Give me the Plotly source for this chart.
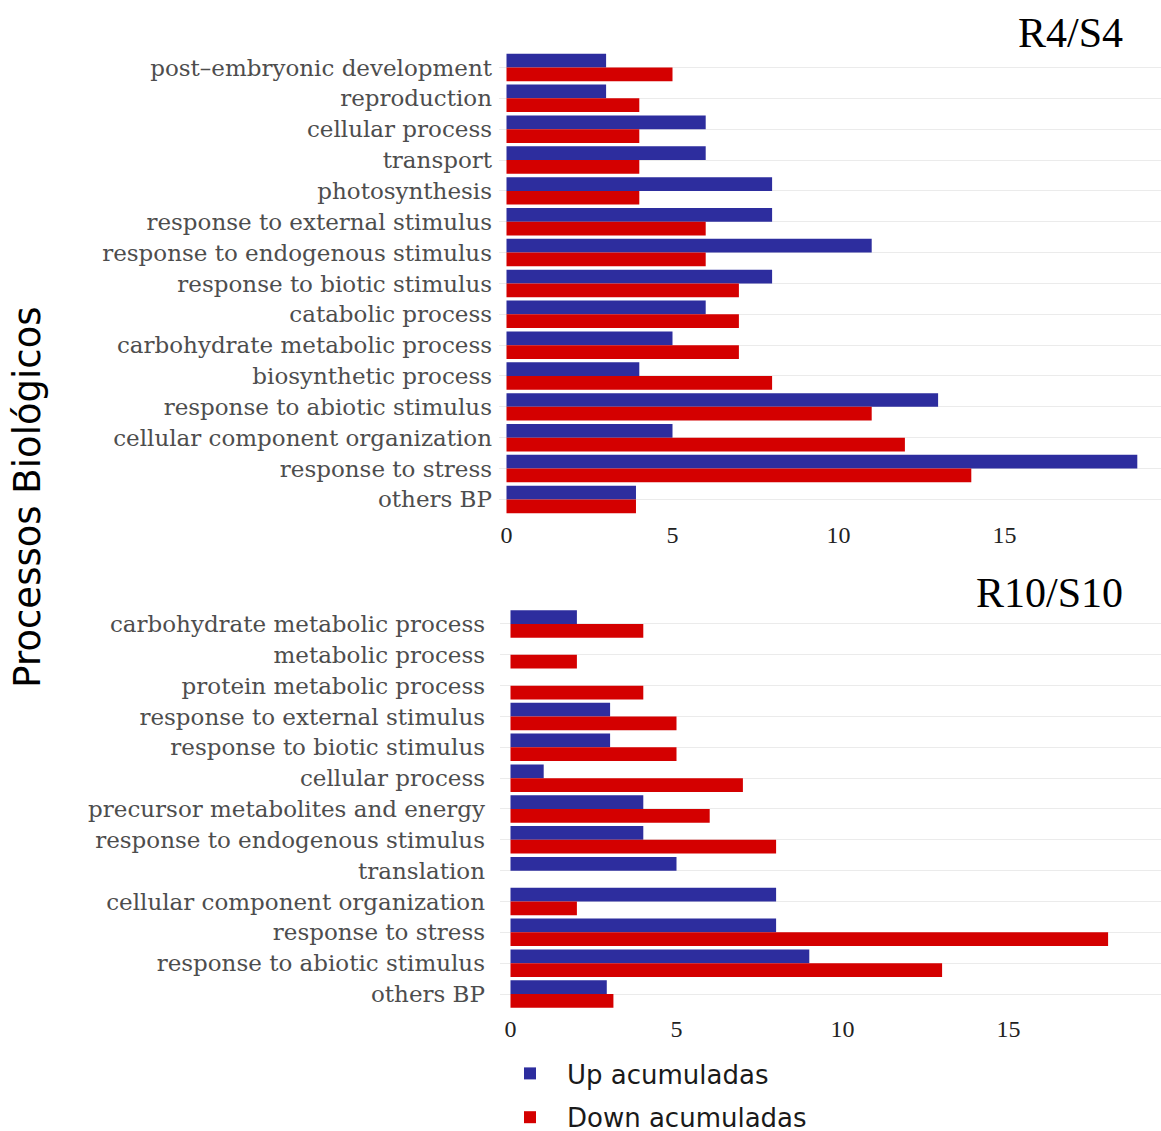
import plotly.graph_objects as go

# Reference geometry is measured in a 1161 x 1131 pixel space and placed with
# paper fractions; the figure height matches the captured page area.
REF_W, REF_H = 1161, 1131
W, H = 1161, 1141

cats_r4 = ["post–embryonic development", "reproduction", "cellular process", "transport",
           "photosynthesis", "response to external stimulus", "response to endogenous stimulus",
           "response to biotic stimulus", "catabolic process", "carbohydrate metabolic process",
           "biosynthetic process", "response to abiotic stimulus", "cellular component organization",
           "response to stress", "others BP"]
up_r4 = [3, 3, 6, 6, 8, 8, 11, 8, 6, 5, 4, 13, 5, 19, 3.9]
down_r4 = [5, 4, 4, 4, 4, 6, 6, 7, 7, 7, 8, 11, 12, 14, 3.9]

cats_r10 = ["carbohydrate metabolic process", "metabolic process", "protein metabolic process",
            "response to external stimulus", "response to biotic stimulus", "cellular process",
            "precursor metabolites and energy", "response to endogenous stimulus", "translation",
            "cellular component organization", "response to stress", "response to abiotic stimulus",
            "others BP"]
up_r10 = [2, None, None, 3, 3, 1, 4, 4, 5, 8, 8, 9, 2.9]
down_r10 = [4, 2, 4, 5, 5, 7, 6, 8, None, 2, 18, 13, 3.1]

x_ticks = [0, 5, 10, 15]
titles = ["R4/S4", "R10/S10"]
series_names = ["Up acumuladas", "Down acumuladas"]
BLUE = "#2D2D9E"
RED = "#D40000"


def px_x(p):
    return p / REF_W


def px_y(p):
    return 1 - p / REF_H


fig = go.Figure()
fig.add_trace(go.Bar(y=cats_r4, x=up_r4, orientation="h", name=series_names[0],
                     marker=dict(color=BLUE, line=dict(width=0)), legendgroup="up",
                     xaxis="x", yaxis="y"))
fig.add_trace(go.Bar(y=cats_r4, x=down_r4, orientation="h", name=series_names[1],
                     marker=dict(color=RED, line=dict(width=0)), legendgroup="down",
                     xaxis="x", yaxis="y"))
fig.add_trace(go.Bar(y=cats_r10, x=up_r10, orientation="h", name=series_names[0],
                     marker=dict(color=BLUE, line=dict(width=0)), legendgroup="up",
                     showlegend=False, xaxis="x2", yaxis="y2"))
fig.add_trace(go.Bar(y=cats_r10, x=down_r10, orientation="h", name=series_names[1],
                     marker=dict(color=RED, line=dict(width=0)), legendgroup="down",
                     showlegend=False, xaxis="x2", yaxis="y2"))

unit = 33.2
xfont = dict(family="Liberation Serif", size=24, color="#222222")
yfont = dict(family="DejaVu Serif", size=23, color="#4D4D4D")
grid = dict(showgrid=True, gridcolor="#EBEBEB", gridwidth=1.3)

top_l, top_zero, top_t, top_b = 499, 506.5, 49.1, 519.3
bot_l, bot_zero, bot_t, bot_b = 500, 510.5, 607.1, 1015.2

fig.update_layout(
    width=W, height=H,
    margin=dict(l=0, r=0, t=0, b=0),
    paper_bgcolor="white", plot_bgcolor="white",
    barmode="group", bargap=0.11, bargroupgap=0,
    xaxis=dict(domain=[px_x(top_l), 1], anchor="y",
               range=[-(top_zero - top_l) / unit, (REF_W - top_zero) / unit],
               tickvals=x_ticks, showgrid=False, zeroline=False, showline=False,
               tickfont=xfont, ticks="", ticklabelstandoff=0),
    yaxis=dict(domain=[px_y(top_b), px_y(top_t)], anchor="x",
               categoryorder="array", categoryarray=cats_r4,
               range=[len(cats_r4) - 0.4, -0.6], zeroline=False, showline=False,
               tickfont=yfont, ticks="", ticklabelstandoff=6, **grid),
    xaxis2=dict(domain=[px_x(bot_l), 1], anchor="y2",
                range=[-(bot_zero - bot_l) / unit, (REF_W - bot_zero) / unit],
                tickvals=x_ticks, showgrid=False, zeroline=False, showline=False,
                tickfont=xfont, ticks="", ticklabelstandoff=-1),
    yaxis2=dict(domain=[px_y(bot_b), px_y(bot_t)], anchor="x2",
                categoryorder="array", categoryarray=cats_r10,
                range=[len(cats_r10) - 0.4, -0.6], zeroline=False, showline=False,
                tickfont=yfont, ticks="", ticklabelstandoff=14, **grid),
    legend=dict(x=px_x(493), y=px_y(1053), xanchor="left", yanchor="top",
                orientation="v", font=dict(family="DejaVu Sans", size=26, color="#1A1A1A"),
                tracegroupgap=7, itemwidth=64, bgcolor="rgba(0,0,0,0)"),
    showlegend=True,
)

fig.add_annotation(text=titles[0], x=px_x(1125), y=px_y(33), xref="paper", yref="paper",
                   xanchor="right", yanchor="middle", showarrow=False,
                   font=dict(family="Liberation Serif", size=42, color="black"))
fig.add_annotation(text=titles[1], x=px_x(1125), y=px_y(595), xref="paper", yref="paper",
                   xanchor="right", yanchor="middle", showarrow=False,
                   font=dict(family="Liberation Serif", size=42, color="black"))
fig.add_annotation(text="Processos Biológicos", x=px_x(28), y=px_y(499), xref="paper", yref="paper",
                   xanchor="center", yanchor="middle", showarrow=False, textangle=-90,
                   font=dict(family="DejaVu Sans", size=37, color="black"))

fig.write_html("out.html", config={"displayModeBar": False},
               post_script="document.body.style.margin='0';document.body.style.overflow='hidden';")
